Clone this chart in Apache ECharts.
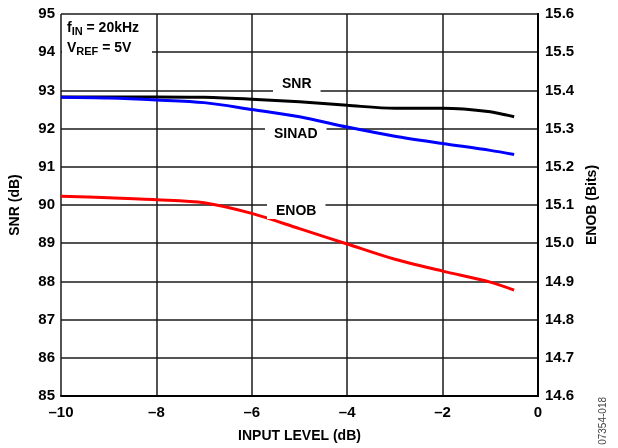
<!DOCTYPE html>
<html><head><meta charset="utf-8">
<script src="https://cdn.jsdelivr.net/npm/echarts@6/dist/echarts.min.js"></script>
<style>html,body{margin:0;padding:0;background:#fff}#c{width:618px;height:448px}</style>
</head><body><div id="c"></div>
<script>
const inputLevel = [-10, -9, -8, -7, -6, -5, -4, -3, -2, -1, -0.5];
const snr   = [92.83, 92.83, 92.83, 92.82, 92.77, 92.70, 92.61, 92.53, 92.53, 92.44, 92.31];
const sinad = [92.82, 92.80, 92.75, 92.68, 92.50, 92.31, 92.04, 91.80, 91.61, 91.43, 91.32];
const enob  = [15.123, 15.119, 15.114, 15.106, 15.078, 15.038, 14.998, 14.958, 14.927, 14.898, 14.877];

const font = 'Liberation Sans, Arial, sans-serif';
const pair = (xs, ys) => xs.map((x, i) => [x, ys[i]]);
const chart = echarts.init(document.getElementById('c'));
const lbl = (text, x, y) => ({
  type: 'text', left: x, top: y, z: 100,
  style: { text, font: 'bold 14px ' + font, fill: '#000', backgroundColor: '#fff', padding: [1, 9, 1, 9] }
});
const nameStyle = { fontFamily: font, fontWeight: 'bold', fontSize: 14, color: '#000' };
const tickStyle = { fontFamily: font, fontWeight: 'bold', fontSize: 15, color: '#000' };
const rich = {
  m: { font: 'bold 14px ' + font, fill: '#000' },
  s: { font: 'bold 11px ' + font, fill: '#000', verticalAlign: 'bottom', padding: [7, 0, 0, 0] }
};
chart.setOption({
  animation: false,
  grid: { left: 60, right: 80, top: 14, bottom: 51, containLabel: false },
  xAxis: {
    type: 'value', min: -10, max: 0, interval: 2,
    name: 'INPUT LEVEL (dB)', nameLocation: 'middle', nameGap: 33,
    nameTextStyle: nameStyle,
    axisLine: { lineStyle: { color: '#000', width: 2 } },
    axisTick: { show: false },
    axisLabel: Object.assign({ margin: 9, formatter: v => String(v).replace('-', '\u2013') }, tickStyle),
    splitLine: { lineStyle: { color: '#1a1a1a', width: 1.5 } }
  },
  yAxis: [{
    type: 'value', min: 85, max: 95, interval: 1,
    name: 'SNR (dB)', nameLocation: 'middle', nameGap: 39, nameRotate: 90,
    nameTextStyle: nameStyle,
    axisLine: { show: true, lineStyle: { color: '#000', width: 2 } },
    axisTick: { show: false },
    axisLabel: Object.assign({ margin: 6 }, tickStyle),
    splitLine: { lineStyle: { color: '#1a1a1a', width: 1.5 } }
  }, {
    type: 'value', min: 14.6, max: 15.6, interval: 0.1, position: 'right',
    name: 'ENOB (Bits)', nameLocation: 'middle', nameGap: 46, nameRotate: 90,
    nameTextStyle: nameStyle,
    axisLine: { show: true, lineStyle: { color: '#000', width: 2 } },
    axisTick: { show: false },
    axisLabel: Object.assign({ margin: 7, formatter: v => v.toFixed(1) }, tickStyle),
    splitLine: { show: false }
  }],
  series: [
    { name: 'SNR', type: 'line', smooth: 0.3, symbol: 'none', data: pair(inputLevel, snr),
      lineStyle: { color: '#000', width: 3 }, z: 3 },
    { name: 'SINAD', type: 'line', smooth: 0.3, symbol: 'none', data: pair(inputLevel, sinad),
      lineStyle: { color: '#0000ff', width: 3 }, z: 4 },
    { name: 'ENOB', type: 'line', smooth: 0.3, symbol: 'none', yAxisIndex: 1, data: pair(inputLevel, enob),
      lineStyle: { color: '#ff0000', width: 3 }, z: 4 }
  ],
  graphic: [
    { type: 'rect', left: 62, top: 16, z: 99, shape: { width: 90, height: 44 }, style: { fill: '#fff' } },
    { type: 'text', left: 67, top: 21, z: 100, style: { text: '{m|f}{s|IN}{m| = 20kHz}', rich } },
    { type: 'text', left: 67, top: 41, z: 100, style: { text: '{m|V}{s|REF}{m| = 5V}', rich } },
    lbl('SNR', 273, 76),
    lbl('SINAD', 265, 126),
    lbl('ENOB', 267, 203),
    { type: 'text', left: 598, top: 397, rotation: Math.PI / 2, z: 100,
      style: { text: '07354-018', font: '10px ' + font, fill: '#444' } }
  ]
});
</script></body></html>
